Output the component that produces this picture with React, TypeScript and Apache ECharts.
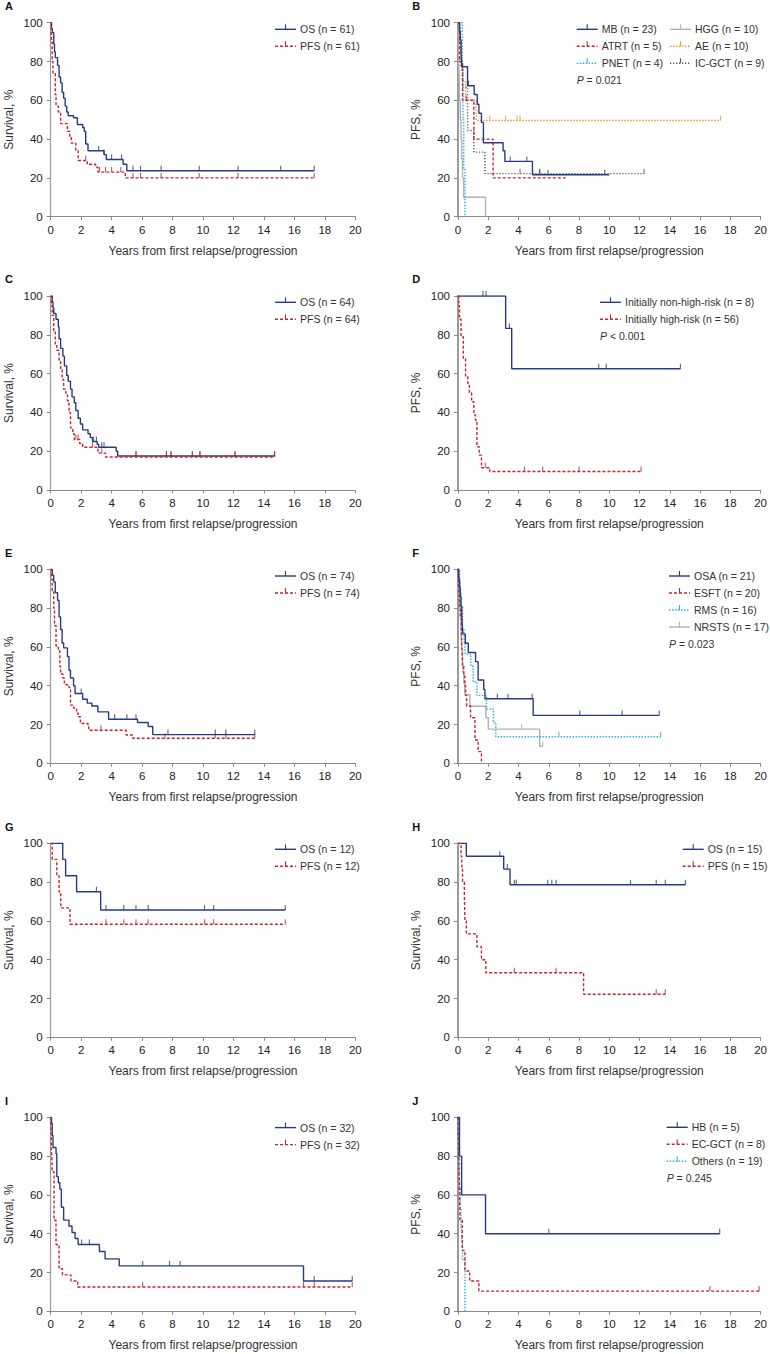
import React, { useEffect, useRef } from "react";
import * as echarts from "echarts";

type Pt = [number, number];

// ---------- data (time in years, survival %) ----------
const xTicks = [0, 2, 4, 6, 8, 10, 12, 14, 16, 18, 20];
const yTicks = [0, 20, 40, 60, 80, 100];

// A
const aOS: Pt[] = [[0,100],[0.05,97],[0.1,95],[0.2,89],[0.25,85],[0.3,82],[0.45,78],[0.55,72],[0.65,69],[0.75,64],[0.85,61],[0.95,57],[1.05,54],[1.15,52],[1.5,51],[1.75,47.5],[2.1,46],[2.2,44],[2.3,37.5],[2.45,34],[3.5,32],[3.65,29.5],[4.75,27],[5.0,23.7],[17.3,23.7]];
const aOSc = [3.15,3.5,4.0,4.65,5.4,5.9,7.25,9.75,12.3,15.1,17.3];
const aPFS: Pt[] = [[0,100],[0.05,90],[0.1,80],[0.15,74],[0.3,63],[0.35,57],[0.5,54],[0.65,48],[1.1,44],[1.25,41],[1.35,38],[1.65,34],[1.8,29],[2.4,27],[2.95,25.5],[3.1,23],[4.9,20],[17.3,20]];
const aPFSc = [2.3,3.2,3.6,4.0,4.6,5.4,5.9,7.25,9.75,12.3,17.3];

// B
const bMB: Pt[] = [[0,100],[0.1,95.7],[0.15,91.3],[0.2,87],[0.22,82.6],[0.25,77.3],[0.63,67.5],[1.07,63],[1.27,58],[1.38,53.3],[1.55,48.6],[1.68,38.1],[2.98,34],[3.1,28.5],[4.92,21.6],[10.0,21.6]];
const bMBc = [0.7,3.45,4.55,5.4,5.95,9.7];
const bATRT: Pt[] = [[0,100],[0.1,80],[0.3,60],[1.05,40],[2.32,20],[7.2,20]];
const bATRTc = [0.55];
const bPNET: Pt[] = [[0,100],[0.28,75],[0.33,50],[0.38,25],[0.46,0]];
const bPNETc: number[] = [];
const bHGG: Pt[] = [[0,100],[0.02,90],[0.05,80],[0.08,70],[0.1,60],[0.15,50],[0.2,40],[0.25,30],[0.3,20],[0.37,10],[1.82,0]];
const bHGGc: number[] = [];
const bAE: Pt[] = [[0,100],[0.1,90],[0.2,80],[0.3,70],[0.5,60],[1.2,49.6],[17.35,49.6]];
const bAEc = [2.1,3.15,3.9,4.1,17.35];
const bIC: Pt[] = [[0,100],[0.1,88.9],[0.2,77.8],[0.3,66.7],[0.63,55.6],[0.65,44.4],[1.05,33.3],[1.78,22.2],[12.3,22.2]];
const bICc = [4.1,5.4,12.3];

// C
const cOS: Pt[] = [[0,100],[0.1,97],[0.15,94],[0.2,91],[0.35,88],[0.5,84],[0.55,78],[0.65,73],[0.8,69],[0.9,64],[1.05,59],[1.15,56],[1.3,52],[1.4,48],[1.55,45],[1.65,41],[1.8,37],[1.95,34],[2.1,31],[2.45,29],[2.6,27],[2.75,25],[3.05,23.5],[3.15,22],[4.3,20],[4.4,17.5],[14.7,17.5]];
const cOSc = [2.8,3.0,3.35,3.5,5.6,7.6,7.9,9.3,9.8,12.1,14.7];
const cPFS: Pt[] = [[0,100],[0.05,95],[0.1,90],[0.2,82],[0.3,75],[0.4,72],[0.55,67],[0.65,62],[0.75,57],[0.85,52],[1.0,49],[1.1,46],[1.2,40],[1.3,32],[1.45,29],[1.55,26],[1.9,24],[2.1,22],[3.1,19],[3.6,17],[14.7,17]];
const cPFSc = [1.65,1.8,2.75,3.35,5.6,7.6,7.9,9.3,9.8,12.1,14.7];

// D
const dNon: Pt[] = [[0,100],[3.15,83.3],[3.55,62.5],[14.7,62.5]];
const dNonc = [1.65,1.85,3.4,9.3,9.8,14.7];
const dHigh: Pt[] = [[0,100],[0.05,95],[0.1,88],[0.2,79],[0.35,67.5],[0.5,58.5],[0.65,55],[0.75,50],[0.9,45.5],[1.05,38.7],[1.15,36],[1.25,22.3],[1.4,18],[1.55,11.5],[2.1,9.5],[12.1,9.5]];
const dHighc = [1.8,4.4,5.6,8.0,12.1];

// E
const eOS: Pt[] = [[0,100],[0.1,97],[0.2,93.5],[0.3,88],[0.45,84],[0.55,75.5],[0.65,69],[0.75,62],[0.85,59.5],[1.1,55],[1.2,48],[1.3,44],[1.5,40],[1.6,36],[2.1,33],[2.4,31],[2.7,29.5],[3.1,26.5],[3.8,22.7],[5.7,21],[6.4,19],[6.7,14.8],[13.4,14.8]];
const eOSc = [2.0,4.2,5.0,5.6,7.7,10.8,11.5,13.4];
const ePFS: Pt[] = [[0,100],[0.05,95],[0.1,89],[0.2,80],[0.25,71],[0.35,60.5],[0.5,58],[0.6,50],[0.65,46],[0.8,44],[0.9,40.5],[1.2,39],[1.3,30],[1.5,28.5],[1.7,26],[1.8,24],[1.95,20.5],[2.45,19],[2.5,17],[4.95,14.6],[5.38,12.9],[13.4,12.9]];
const ePFSc = [3.3,7.5,10.8,11.5,13.4];

// F
const fOSA: Pt[] = [[0,100],[0.05,95.2],[0.1,90.5],[0.15,85.7],[0.2,81],[0.25,76.2],[0.28,71.4],[0.32,66.7],[0.48,61.9],[0.68,57.1],[1.16,52.4],[1.33,42.9],[1.7,38.1],[1.78,33.3],[4.97,24.7],[13.3,24.7]];
const fOSAc = [2.6,3.3,4.9,8.05,10.85,13.3];
const fESFT: Pt[] = [[0,100],[0.03,95],[0.06,90],[0.08,85],[0.1,80],[0.15,75],[0.22,70],[0.25,60],[0.28,55],[0.3,50],[0.38,45],[0.45,40],[0.5,35],[0.57,29.5],[0.83,23.5],[1.12,12],[1.33,6],[1.55,0]];
const fESFTc: number[] = [];
const fRMS: Pt[] = [[0,100],[0.1,93.8],[0.15,87.5],[0.2,81.3],[0.3,68.8],[0.4,62.5],[0.46,56.3],[0.85,50],[1.0,42],[1.25,35],[1.88,28],[2.34,21],[2.5,13.7],[13.4,13.7]];
const fRMSc = [6.67,13.4];
const fNR: Pt[] = [[0,100],[0.05,94.1],[0.08,88.2],[0.1,82.4],[0.15,76.5],[0.2,70.6],[0.22,64.7],[0.25,58.8],[0.3,52.9],[0.33,47.1],[0.38,41.2],[0.45,35.3],[0.79,29.4],[1.84,23.5],[2.0,17.6],[5.4,8.8],[5.6,8.8]];
const fNRc = [4.2,5.6];

// G
const gOS: Pt[] = [[0,100],[0.79,91.7],[0.98,83.3],[1.7,75],[3.28,65.6],[15.4,65.6]];
const gOSc = [3.0,3.63,4.8,5.6,6.4,10.1,10.7,15.4];
const gPFS: Pt[] = [[0,100],[0.1,91.7],[0.4,83.3],[0.55,75],[0.66,66.7],[1.27,58.3],[15.4,58.3]];
const gPFSc = [3.63,4.8,5.6,6.4,10.1,10.7,15.4];

// H
const hOS: Pt[] = [[0,100],[0.55,93.3],[3.02,86.7],[3.44,78.6],[15.03,78.6]];
const hOSc = [2.76,3.26,3.72,3.85,5.93,6.2,6.48,11.4,13.1,13.7,15.03];
const hPFS: Pt[] = [[0,100],[0.2,93.3],[0.25,86.7],[0.3,80],[0.42,73.3],[0.44,66.7],[0.46,60],[0.55,53.3],[1.25,46.7],[1.55,40],[1.84,33.3],[8.3,22.2],[13.7,22.2]];
const hPFSc = [3.72,6.48,13.1,13.7];

// I
const iOS: Pt[] = [[0,100],[0.05,96.9],[0.1,90.6],[0.15,84.4],[0.35,81.3],[0.4,69.4],[0.5,66.3],[0.6,63],[0.7,53.6],[0.85,47],[1.2,44],[1.4,40.6],[1.6,37.5],[1.8,34.4],[3.2,30.8],[3.57,27],[4.5,23.4],[16.6,15.6],[19.8,15.6]];
const iOSc = [2.03,2.54,6.04,7.8,8.5,17.3,19.8];
const iPFS: Pt[] = [[0,100],[0.02,93.8],[0.05,84.4],[0.08,78.1],[0.1,71.9],[0.22,46.9],[0.35,34.4],[0.55,21.9],[0.77,18.8],[1.33,15.6],[1.77,12.5],[19.8,12.5]];
const iPFSc = [6.04,16.6,17.3,19.8];

// J
const jHB: Pt[] = [[0,100],[0.1,80],[0.24,60],[1.82,40],[17.3,40]];
const jHBc = [6.0,17.3];
const jEC: Pt[] = [[0,100],[0.03,87.5],[0.06,75],[0.1,62.5],[0.13,46.9],[0.28,31.3],[0.46,20.8],[0.77,15.6],[1.38,10.4],[19.9,10.4]];
const jECc = [16.65,19.9];
const jOth: Pt[] = [[0,100],[0.03,94.7],[0.05,84.2],[0.08,73.7],[0.1,63.2],[0.15,52.6],[0.2,42.1],[0.25,36.8],[0.3,26.3],[0.46,0]];
const jOthc: number[] = [];

// ---------- styles ----------
const NAVY = "#2a3a80";
const RED = "#c8232f";
const CYAN = "#2eb0e0";
const LGRAY = "#b2b2b2";
const ORANGE = "#ee972c";
const DGRAY = "#555555";
const SOLID: number[] | null = null;
const DASH = [3, 2];
const DOT = [1.5, 1.5];
const FONT = "Liberation Sans, Arial, sans-serif";

interface Curve { label: string; pts: Pt[]; cens: number[]; color: string; dash: number[] | null; lx: number; lrow: number; }
interface Panel { letter: string; row: number; col: number; yName: string; curves: Curve[]; legDy: number; p?: string; pX?: number; pRow?: number; }

const C = (label: string, pts: Pt[], cens: number[], color: string, dash: number[] | null, lx: number, lrow: number): Curve => ({ label, pts, cens, color, dash, lx, lrow });

const panels: Panel[] = [
  { letter: "A", row: 0, col: 0, yName: "Survival, %", legDy: 6.6, curves: [
    C("OS (n = 61)", aOS, aOSc, NAVY, SOLID, 275, 0),
    C("PFS (n = 61)", aPFS, aPFSc, RED, DASH, 275, 1)] },
  { letter: "B", row: 0, col: 1, yName: "PFS, %", legDy: 6.6, p: "0.021", pX: 576.7, pRow: 3, curves: [
    C("HGG (n = 10)", bHGG, bHGGc, LGRAY, SOLID, 670, 0),
    C("AE (n = 10)", bAE, bAEc, ORANGE, DOT, 670, 1),
    C("IC-GCT (n = 9)", bIC, bICc, DGRAY, [1.2, 1.8], 670, 2),
    C("PNET (n = 4)", bPNET, bPNETc, CYAN, DOT, 576.7, 2),
    C("ATRT (n = 5)", bATRT, bATRTc, RED, DASH, 576.7, 1),
    C("MB (n = 23)", bMB, bMBc, NAVY, SOLID, 576.7, 0)] },
  { letter: "C", row: 1, col: 0, yName: "Survival, %", legDy: 6.3, curves: [
    C("OS (n = 64)", cOS, cOSc, NAVY, SOLID, 275, 0),
    C("PFS (n = 64)", cPFS, cPFSc, RED, DASH, 275, 1)] },
  { letter: "D", row: 1, col: 1, yName: "PFS, %", legDy: 6.3, p: "< 0.001", pX: 600, pRow: 2, curves: [
    C("Initially non-high-risk (n = 8)", dNon, dNonc, NAVY, SOLID, 600, 0),
    C("Initially high-risk (n = 56)", dHigh, dHighc, RED, DASH, 600, 1)] },
  { letter: "E", row: 2, col: 0, yName: "Survival, %", legDy: 6.7, curves: [
    C("OS (n = 74)", eOS, eOSc, NAVY, SOLID, 275, 0),
    C("PFS (n = 74)", ePFS, ePFSc, RED, DASH, 275, 1)] },
  { letter: "F", row: 2, col: 1, yName: "PFS, %", legDy: 6.7, p: "0.023", pX: 669, pRow: 4, curves: [
    C("NRSTS (n = 17)", fNR, fNRc, LGRAY, SOLID, 669, 3),
    C("RMS (n = 16)", fRMS, fRMSc, CYAN, DOT, 669, 2),
    C("ESFT (n = 20)", fESFT, fESFTc, RED, DASH, 669, 1),
    C("OSA (n = 21)", fOSA, fOSAc, NAVY, SOLID, 669, 0)] },
  { letter: "G", row: 3, col: 0, yName: "Survival, %", legDy: 6.0, curves: [
    C("OS (n = 12)", gOS, gOSc, NAVY, SOLID, 275, 0),
    C("PFS (n = 12)", gPFS, gPFSc, RED, DASH, 275, 1)] },
  { letter: "H", row: 3, col: 1, yName: "Survival, %", legDy: 6.0, curves: [
    C("OS (n = 15)", hOS, hOSc, NAVY, SOLID, 682.7, 0),
    C("PFS (n = 15)", hPFS, hPFSc, RED, DASH, 682.7, 1)] },
  { letter: "I", row: 4, col: 0, yName: "Survival, %", legDy: 10.3, curves: [
    C("OS (n = 32)", iOS, iOSc, NAVY, SOLID, 275, 0),
    C("PFS (n = 32)", iPFS, iPFSc, RED, DASH, 275, 1)] },
  { letter: "J", row: 4, col: 1, yName: "PFS, %", legDy: 10.0, p: "0.245", pX: 666.7, pRow: 3, curves: [
    C("Others (n = 19)", jOth, jOthc, CYAN, DOT, 666.7, 2),
    C("EC-GCT (n = 8)", jEC, jECc, RED, DASH, 666.7, 1),
    C("HB (n = 5)", jHB, jHBc, NAVY, SOLID, 666.7, 0)] },
];

const ROW_TOPS = [22.7, 296, 569.3, 843.3, 1117.3];
const COL_LEFTS = [50.7, 458];
const GW = 304.6;
const GH = 194;
const LROW = 17;

function survAt(pts: Pt[], t: number): number {
  let s = pts[0][1];
  for (const [tt, ss] of pts) if (tt <= t + 1e-9) s = ss;
  return s;
}

function buildOption() {
  const grid: any[] = [];
  const xAxis: any[] = [];
  const yAxis: any[] = [];
  const series: any[] = [];
  const graphic: any[] = [];
  const axisColor = "#9a9a9a";

  panels.forEach((p, i) => {
    const left = COL_LEFTS[p.col];
    const top = ROW_TOPS[p.row];
    grid.push({ left, top, width: GW, height: GH });
    xAxis.push({
      type: "value", gridIndex: i, min: xTicks[0], max: xTicks[xTicks.length - 1], interval: 2,
      name: "Years from first relapse/progression", nameLocation: "middle", nameGap: 28,
      nameTextStyle: { fontSize: 12, color: "#333", fontFamily: FONT },
      axisLine: { show: true, onZero: false, lineStyle: { color: "#8a8a8a", width: 1.2 } },
      axisTick: { show: true, length: 3.5, lineStyle: { color: "#8a8a8a" } },
      axisLabel: { fontSize: 11.5, color: "#222", margin: 7, fontFamily: FONT },
      splitLine: { show: false },
    });
    yAxis.push({
      type: "value", gridIndex: i, min: yTicks[0], max: yTicks[yTicks.length - 1], interval: 20,
      name: p.yName, nameLocation: "middle", nameGap: 36,
      nameTextStyle: { fontSize: 12, color: "#333", fontFamily: FONT },
      axisLine: { show: true, onZero: false, lineStyle: { color: axisColor, width: p.col === 1 ? 2 : 1.2 } },
      axisTick: { show: true, length: 4, lineStyle: { color: "#8a8a8a" } },
      axisLabel: { fontSize: 11.5, color: "#222", margin: 8, fontFamily: FONT },
      splitLine: { show: false },
    });

    p.curves.forEach((c) => {
      series.push({
        type: "line", xAxisIndex: i, yAxisIndex: i, data: c.pts, step: "end",
        symbol: "none", showSymbol: false, silent: true,
        lineStyle: { color: c.color, width: 1.4, type: c.dash ? c.dash : "solid" },
      });
      if (c.cens.length) {
        series.push({
          type: "scatter", xAxisIndex: i, yAxisIndex: i, silent: true,
          data: c.cens.map((t) => [t, survAt(c.pts, t)]),
          symbol: "rect", symbolSize: [1.1, 5], symbolOffset: [0, -2.5],
          itemStyle: { color: c.color },
        });
      }
      // legend entry
      const ly = top + p.legDy + c.lrow * LROW;
      const lx = c.lx;
      graphic.push({ type: "line", silent: true, shape: { x1: lx, y1: ly, x2: lx + 21, y2: ly },
        style: { stroke: c.color, lineWidth: 1.4, lineDash: c.dash || undefined } });
      graphic.push({ type: "line", silent: true, shape: { x1: lx + 10.5, y1: ly - 5, x2: lx + 10.5, y2: ly },
        style: { stroke: c.color, lineWidth: 1.1 } });
      graphic.push({ type: "text", silent: true, x: lx + 25, y: ly,
        style: { text: c.label, fill: "#333", fontSize: 10.5, fontFamily: FONT, verticalAlign: "middle", align: "left" } });
    });

    if (p.p) {
      const py = top + p.legDy + (p.pRow as number) * LROW;
      graphic.push({ type: "text", silent: true, x: p.pX, y: py,
        style: { text: "{i|P} " + (p.p.startsWith("<") ? p.p : "= " + p.p), fill: "#333", fontSize: 10.5, fontFamily: FONT,
          verticalAlign: "middle", align: "left",
          rich: { i: { fontStyle: "italic", fontSize: 10.5, fontFamily: FONT, fill: "#333" } } } });
    }

    graphic.push({ type: "text", silent: true, x: left - 45.7, y: top - 16.7,
      style: { text: p.letter, fill: "#111", fontSize: 11, fontWeight: "bold", fontFamily: FONT, verticalAlign: "middle", align: "left" } });
  });

  return { animation: false, backgroundColor: "#ffffff", grid, xAxis, yAxis, series, graphic };
}

export default function App() {
  const ref = useRef<HTMLDivElement>(null);
  useEffect(() => {
    if (!ref.current) return;
    const chart = echarts.init(ref.current, undefined, { renderer: "svg" });
    chart.setOption(buildOption() as any);
    return () => chart.dispose();
  }, []);
  return <div ref={ref} style={{ position: "absolute", left: 0, top: 0, width: 770, height: 1354, background: "#fff" }} />;
}
